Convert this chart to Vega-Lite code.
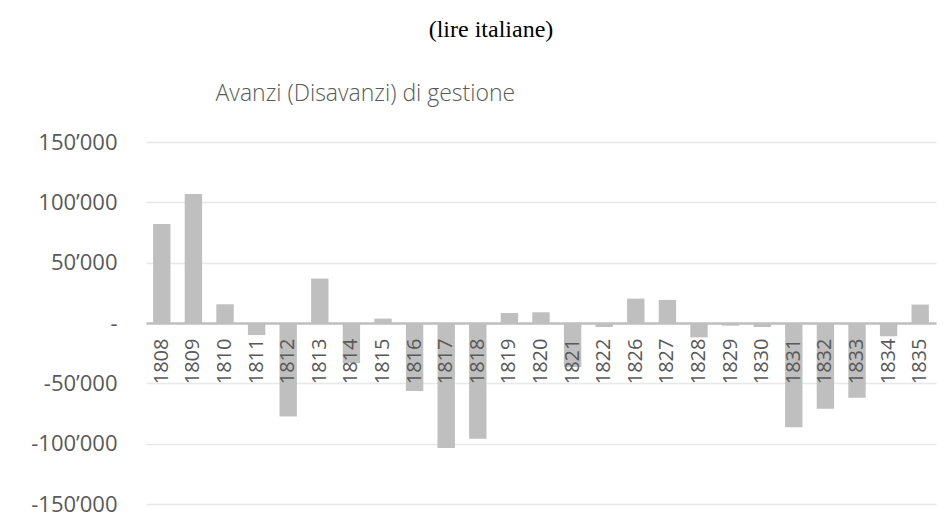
{
  "$schema": "https://vega.github.io/schema/vega-lite/v6.json",
  "width": 790,
  "height": 362,
  "autosize": {"type": "none"},
  "padding": {"left": 146, "top": 142, "right": 16, "bottom": 20},
  "background": "white",
  "title": {
    "text": "(lire italiane)",
    "anchor": "middle",
    "frame": "group",
    "dx": -50,
    "offset": 21,
    "baseline": "alphabetic",
    "font": "Liberation Serif",
    "fontSize": 24,
    "fontWeight": 400,
    "color": "#000000"
  },
  "data": {
    "values": [
      {"year": "1808", "value": 82000},
      {"year": "1809", "value": 107000},
      {"year": "1810", "value": 15500},
      {"year": "1811", "value": -10000},
      {"year": "1812", "value": -77500},
      {"year": "1813", "value": 36800},
      {"year": "1814", "value": -33300},
      {"year": "1815", "value": 3600},
      {"year": "1816", "value": -56400},
      {"year": "1817", "value": -103500},
      {"year": "1818", "value": -96000},
      {"year": "1819", "value": 8300},
      {"year": "1820", "value": 8900},
      {"year": "1821", "value": -36500},
      {"year": "1822", "value": -3300},
      {"year": "1826", "value": 20200},
      {"year": "1827", "value": 19100},
      {"year": "1828", "value": -11900},
      {"year": "1829", "value": -2200},
      {"year": "1830", "value": -3300},
      {"year": "1831", "value": -86300},
      {"year": "1832", "value": -71000},
      {"year": "1833", "value": -61900},
      {"year": "1834", "value": -11000},
      {"year": "1835", "value": 15300}
    ]
  },
  "mark": {"type": "bar", "color": "#bfbfbf"},
  "encoding": {
    "x": {
      "field": "year",
      "type": "nominal",
      "sort": null,
      "scale": {"paddingInner": 0.45, "paddingOuter": 0.225},
      "axis": {
        "title": null,
        "offset": -181,
        "zindex": 1,
        "labelAngle": -90,
        "labelPadding": 15,
        "ticks": false,
        "domainColor": "#bfbfbf",
        "domainWidth": 2.5,
        "labelFont": "Open Sans",
        "labelFontSize": 20,
        "labelColor": "#595959",
        "grid": false
      }
    },
    "y": {
      "field": "value",
      "type": "quantitative",
      "scale": {"domain": [-150000, 150000], "nice": false, "zero": true},
      "axis": {
        "values": [-150000, -100000, -50000, 0, 50000, 100000, 150000],
        "labelExpr": "datum.value == 0 ? '-\u00a0\u00a0' : replace(replace(format(datum.value, ','), ',', '\u2019'), '\u2212', '-')",
        "domain": false,
        "ticks": false,
        "grid": true,
        "gridColor": "#e8e8e8",
        "gridWidth": 1.3,
        "labelPadding": 29,
        "labelFont": "Open Sans",
        "labelFontSize": 22,
        "labelColor": "#595959",
        "title": "Avanzi (Disavanzi) di gestione",
        "titleAngle": 0,
        "titleAlign": "left",
        "titleBaseline": "alphabetic",
        "titleX": 69,
        "titleY": -42,
        "titleFont": "Open Sans",
        "titleFontSize": 23,
        "titleFontWeight": 300,
        "titleColor": "#595959"
      }
    }
  },
  "config": {
    "view": {"stroke": null}
  }
}
